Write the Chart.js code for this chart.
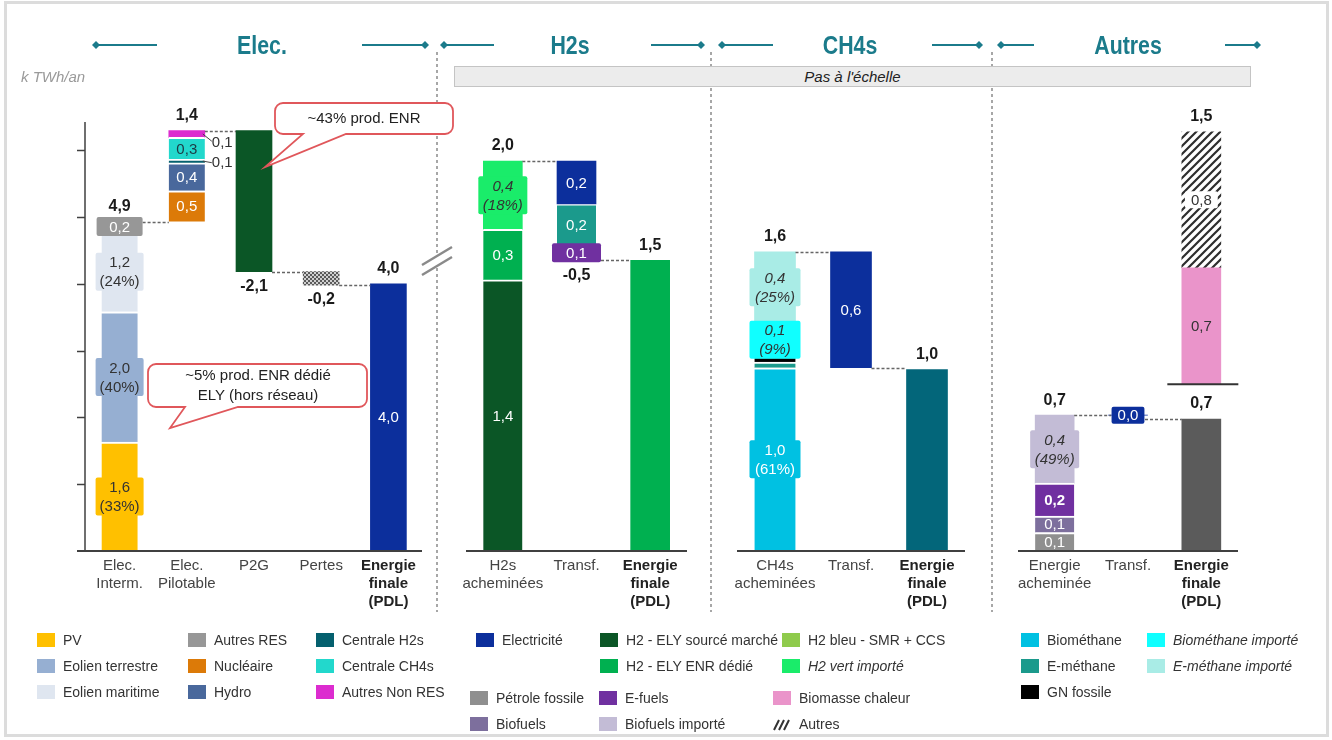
<!DOCTYPE html>
<html><head><meta charset="utf-8">
<script src="https://cdn.jsdelivr.net/npm/chart.js@4.4.1/dist/chart.umd.min.js"></script>
<style>
html,body{margin:0;padding:0;background:#fff;}
#page{position:relative;width:1332px;height:740px;overflow:hidden;font-family:"Liberation Sans",Arial,sans-serif;color:#333;}
#page canvas{position:absolute;left:0;top:0;}
.hdr{position:absolute;top:30px;line-height:30px;font-weight:bold;font-size:26px;color:#1b7b8b;transform:translateX(-50%) scaleX(0.82);white-space:nowrap;}
.unit{position:absolute;left:21px;top:68px;font-size:15px;font-style:italic;color:#9a9a9a;}
.pas{position:absolute;left:454px;top:66px;width:795px;height:19px;background:#ececec;border:1px solid #c4c4c4;font-size:15px;font-style:italic;line-height:19px;text-align:center;color:#222;}
.li{position:absolute;height:18px;line-height:18px;font-size:14px;white-space:nowrap;color:#333;}
.sw{display:inline-block;width:18px;height:14px;vertical-align:-2px;margin-right:8px;}
.hsw{display:inline-block;width:18px;height:14px;vertical-align:-2px;margin-right:8px;}
</style></head>
<body><div id="page">
<canvas id="deco" width="1332" height="740"></canvas>
<canvas id="cElec" width="1332" height="740"></canvas>
<canvas id="cH2" width="1332" height="740"></canvas>
<canvas id="cCH4" width="1332" height="740"></canvas>
<canvas id="cAutres" width="1332" height="740"></canvas>
<div class="hdr" style="left:262px">Elec.</div>
<div class="hdr" style="left:570px">H2s</div>
<div class="hdr" style="left:850px">CH4s</div>
<div class="hdr" style="left:1128px">Autres</div>
<div class="unit">k TWh/an</div>
<div class="pas">Pas à l'échelle</div>
<div id="legend"></div>
</div>
<script>
// ===================== DATA =====================
const elecCategories = [['Elec.','Interm.'],['Elec.','Pilotable'],['P2G'],['Pertes'],['Energie','finale','(PDL)']];
const elecIntermSeries = ['PV','Eolien terrestre','Eolien maritime','Autres RES'];
const elecIntermValues = [1.63, 1.95, 1.20, 0.15];
const elecIntermLabels = ['1,6\n(33%)','2,0\n(40%)','1,2\n(24%)','0,2'];
const elecPilotSeries = ['Nucléaire','Hydro','Centrale H2s','Centrale CH4s','Autres Non RES'];
const elecPilotValues = [0.46, 0.42, 0.05, 0.33, 0.10];
const elecPilotLabels = ['0,5','0,4','0,1','0,3','0,1'];
const elecP2GValue = -2.11;
const elecPertesValue = -0.20;
const elecFinalValue = 4.0;
const elecFinalLabel = '4,0';
const elecTotals = ['4,9','1,4','-2,1','-0,2','4,0'];
const elecTicks = [1,2,3,4,5,6];

const h2Categories = [['H2s','acheminées'],['Transf.'],['Energie','finale','(PDL)']];
const h2SupplySeries = ['H2 - ELY sourcé marché','H2 - ELY ENR dédié','H2 vert importé'];
const h2SupplyValues = [1.39, 0.26, 0.35];
const h2SupplyLabels = ['1,4','0,3','0,4\n(18%)'];
const h2TransfSeries = ['Electricité','E-méthane','E-fuels'];
const h2TransfValues = [0.22, 0.21, 0.08];
const h2TransfLabels = ['0,2','0,2','0,1'];
const h2FinalValue = 1.49;
const h2Totals = ['2,0','-0,5','1,5'];

const ch4Categories = [['CH4s','acheminées'],['Transf.'],['Energie','finale','(PDL)']];
const ch4SupplySeries = ['Biométhane','E-méthane','GN fossile','Biométhane importé','E-méthane importé'];
const ch4SupplyValues = [0.98, 0.03, 0.03, 0.18, 0.38];
const ch4SupplyLabels = ['1,0\n(61%)','','','0,1\n(9%)','0,4\n(25%)'];
const ch4TransfValue = -0.62;
const ch4TransfLabel = '0,6';
const ch4FinalValue = 0.97;
const ch4Totals = ['1,6','','1,0'];

const autresCategories = [['Energie','acheminée'],['Transf.'],['Energie','finale','(PDL)']];
const autresSupplySeries = ['Pétrole fossile','Biofuels','E-fuels','Biofuels importé'];
const autresSupplyValues = [0.095, 0.085, 0.17, 0.35];
const autresSupplyLabels = ['0,1','0,1','0,2','0,4\n(49%)'];
const autresTransfValue = 0.0;
const autresTransfLabel = '0,0';
const autresFinalValue = 0.68;
const autresHeatSeries = ['Biomasse chaleur','Autres'];
const autresHeatValues = [0.60, 0.70];
const autresHeatLabels = ['0,7','0,8'];
const autresTotals = ['0,7','','0,7','1,5'];

// ===================== STYLES =====================
const FONT = '"Liberation Sans", Arial, sans-serif';
function makeHatch(){
  const c=document.createElement('canvas');c.width=8;c.height=8;const g=c.getContext('2d');
  g.fillStyle='#fff';g.fillRect(0,0,8,8);g.strokeStyle='#2e2e2e';g.lineWidth=2.2;
  g.beginPath();g.moveTo(0,8);g.lineTo(8,0);g.moveTo(-2,2);g.lineTo(2,-2);g.moveTo(6,10);g.lineTo(10,6);g.stroke();
  return g.createPattern(c,'repeat');
}
function makeMesh(){
  const c=document.createElement('canvas');c.width=4;c.height=4;const g=c.getContext('2d');
  g.fillStyle='#cfcfcf';g.fillRect(0,0,4,4);g.fillStyle='#5a5a5a';g.fillRect(0,0,2,2);g.fillRect(2,2,2,2);
  return g.createPattern(c,'repeat');
}
const COLORS = {
 'PV':'#ffc000','Eolien terrestre':'#96afd2','Eolien maritime':'#dfe6f0','Autres RES':'#979797',
 'Nucléaire':'#dc7a08','Hydro':'#49689c','Centrale H2s':'#04606e','Centrale CH4s':'#22d8cc','Autres Non RES':'#dc2ccf',
 'Electricité':'#0c2f9c','H2 - ELY sourcé marché':'#0b5626','H2 - ELY ENR dédié':'#00b050','H2 bleu - SMR + CCS':'#8fcb4c','H2 vert importé':'#1aec6a',
 'Biométhane':'#00c1e2','Biométhane importé':'#10ffff','E-méthane':'#1b9a8c','E-méthane importé':'#a9ece6','GN fossile':'#000000',
 'Pétrole fossile':'#8f8f8f','Biofuels':'#7d6f9d','E-fuels':'#7030a0','Biofuels importé':'#c3bcd6','Biomasse chaleur':'#ea94ca',
 'Autres':makeHatch()
};
const PERTES = makeMesh();
const DARK='#333333', WHITE='#ffffff';
const PANELS = {};

// ===================== HELPERS =====================
function stack(cat, start, values, names, labels, styles, dir){
  const segs=[]; let acc=start;
  values.forEach((v,i)=>{
    const a=acc, b=acc+dir*Math.abs(v);
    segs.push(Object.assign({cat, lo:Math.min(a,b), hi:Math.max(a,b), name:names[i], label:labels[i]},
      (styles&&styles[i])||{}, {sep: dir>0 ? i<values.length-1 : i>0}));
    acc=b;
  });
  return {segs, end:acc};
}
function toDatasets(segs, n, bw){
  return segs.map((s,k)=>{
    const data=new Array(n).fill(null); data[s.cat]=[s.lo,s.hi];
    return {label:s.name, data, backgroundColor:s.color||COLORS[s.name], borderColor:'#ffffff',
      borderWidth:{top:s.sep?2:0,right:0,bottom:0,left:0}, borderSkipped:false,
      grouped:false, barThickness:bw, segIndex:k};
  });
}
function rr(ctx,x,y,w,h,r){ctx.beginPath();ctx.moveTo(x+r,y);ctx.arcTo(x+w,y,x+w,y+h,r);ctx.arcTo(x+w,y+h,x,y+h,r);ctx.arcTo(x,y+h,x,y,r);ctx.arcTo(x,y,x+w,y,r);ctx.closePath();}
function callout(ctx,x,y,w,h,r,t1,t2,tx,ty){
  ctx.beginPath();ctx.moveTo(x+r,y);ctx.lineTo(x+w-r,y);ctx.arcTo(x+w,y,x+w,y+r,r);
  ctx.lineTo(x+w,y+h-r);ctx.arcTo(x+w,y+h,x+w-r,y+h,r);
  ctx.lineTo(t2,y+h);ctx.lineTo(tx,ty);ctx.lineTo(t1,y+h);
  ctx.lineTo(x+r,y+h);ctx.arcTo(x,y+h,x,y+h-r,r);ctx.lineTo(x,y+r);ctx.arcTo(x,y,x+r,y,r);ctx.closePath();
  ctx.fillStyle='#fff';ctx.fill();ctx.strokeStyle='#e0575b';ctx.lineWidth=1.8;ctx.stroke();
}

const annot = {
  id:'annot',
  afterDatasetsDraw(chart){
    const o=PANELS[chart.canvas.id]; if(!o) return;
    const ctx=chart.ctx, xs=chart.scales.x, ys=chart.scales.y, ca=chart.chartArea;
    const y0=ys.getPixelForValue(0);
    ctx.save();
    if(o.yTicks){
      ctx.strokeStyle='#404040';ctx.lineWidth=1.5;ctx.beginPath();
      ctx.moveTo(ca.left-1,ys.getPixelForValue(ys.max));ctx.lineTo(ca.left-1,y0);
      o.yTicks.forEach(t=>{const py=Math.round(ys.getPixelForValue(t))+0.5;ctx.moveTo(ca.left-9,py);ctx.lineTo(ca.left-1,py);});
      ctx.stroke();
    }
    ctx.strokeStyle='#404040';ctx.lineWidth=2;ctx.beginPath();
    ctx.moveTo(ca.left-(o.baseExt||0),y0);ctx.lineTo(ca.right,y0);ctx.stroke();
    ctx.strokeStyle='#666';ctx.lineWidth=1.5;ctx.setLineDash([3,2]);
    o.connectors.forEach(c=>{
      const py=Math.round(ys.getPixelForValue(c.v))+0.5;
      const x1=xs.getPixelForValue(c.from)+(c.fromHalf!=null?c.fromHalf:o.bw/2);
      const x2=xs.getPixelForValue(c.to)-(c.toHalf!=null?c.toHalf:o.bw/2);
      ctx.beginPath();ctx.moveTo(x1,py);ctx.lineTo(x2,py);ctx.stroke();
    });
    ctx.setLineDash([]);
    chart.data.datasets.forEach((ds,i)=>{
      const s=o.segs[ds.segIndex]; if(!s||!s.label) return;
      const el=chart.getDatasetMeta(i).data[s.cat]; if(!el) return;
      const cx=el.x, cy=(el.y+el.base)/2;
      const lines=s.label.split('\n'), lh=19;
      ctx.font=(s.it?'italic ':'')+(s.bold?'bold ':'')+'15px '+FONT;
      if(s.side){
        const rx=el.x+el.width/2;
        ctx.strokeStyle='#444';ctx.lineWidth=1;ctx.beginPath();ctx.moveTo(rx-2,cy);ctx.lineTo(rx+7,cy+s.dy*0.8);ctx.stroke();
        ctx.fillStyle=DARK;ctx.textAlign='left';ctx.textBaseline='middle';ctx.fillText(s.label,rx+7,cy+s.dy);
        return;
      }
      const tw=Math.max(...lines.map(l=>ctx.measureText(l).width));
      if(s.box){
        const bwid=s.boxFit?tw+12:Math.max(el.width+10,tw+8), bh=lines.length*lh+(s.boxFit?-2:0);
        ctx.fillStyle=s.boxColor||(s.color||COLORS[s.name]);rr(ctx,cx-bwid/2,cy-bh/2,bwid,bh,2);ctx.fill();
      }
      ctx.fillStyle=s.lc||WHITE;ctx.textAlign='center';ctx.textBaseline='middle';
      lines.forEach((l,k)=>ctx.fillText(l,cx,cy+(k-(lines.length-1)/2)*lh+1));
    });
    ctx.font='bold 16px '+FONT;ctx.fillStyle='#1a1a1a';ctx.textAlign='center';ctx.textBaseline='middle';
    o.totals.forEach(t=>{ if(!t.text) return;
      const py=ys.getPixelForValue(t.v)+(t.pos==='above'?-15:15);
      ctx.fillText(t.text,xs.getPixelForValue(t.cat),py);
    });
    o.cats.forEach((lines,i)=>{
      const bold=i===o.cats.length-1;
      ctx.font=(bold?'bold ':'')+'15px '+FONT;ctx.fillStyle=bold?'#222':'#444';
      lines.forEach((l,k)=>ctx.fillText(l,xs.getPixelForValue(i),y0+15+k*18));
    });
    if(o.extra) o.extra(ctx,chart);
    ctx.restore();
  }
};

function makeChart(id, p){
  PANELS[id]=p;
  return new Chart(document.getElementById(id),{
    type:'bar',
    data:{labels:p.cats.map(c=>c.join(' ')), datasets:toDatasets(p.segs,p.cats.length,p.bw)},
    options:{
      responsive:false, animation:false, events:[],
      layout:{padding:{left:p.left,right:1332-p.right,top:122,bottom:740-551}},
      scales:{x:{type:'category',display:false,offset:true}, y:{min:0,max:p.max,display:false}},
      plugins:{legend:{display:false},tooltip:{enabled:false}}
    },
    plugins:[annot]
  });
}

// ===================== ELEC =====================
(function(){
  const boxDark={box:true,lc:DARK};
  const interm=stack(0,0,elecIntermValues,elecIntermSeries,elecIntermLabels,[boxDark,boxDark,boxDark,{box:true,lc:WHITE}],1);
  const pilot=stack(1,interm.end,elecPilotValues,elecPilotSeries,elecPilotLabels,
    [{lc:WHITE},{lc:WHITE},{side:true,dy:2},{lc:'#1d3a44'},{side:true,dy:9}],1);
  const p2g=stack(2,pilot.end,[elecP2GValue],['P2G'],[''],[{color:COLORS['H2 - ELY sourcé marché']}],-1);
  const pertes=stack(3,p2g.end,[elecPertesValue],['Pertes'],[''],[{color:PERTES}],-1);
  const fin=stack(4,0,[elecFinalValue],['Energie finale'],[elecFinalLabel],[{color:COLORS['Electricité'],lc:WHITE}],1);
  makeChart('cElec',{
    cats:elecCategories,left:86,right:422,max:6.42,bw:36,baseExt:9,yTicks:elecTicks,
    segs:[...interm.segs,...pilot.segs,...p2g.segs,...pertes.segs,...fin.segs],
    connectors:[{from:0,to:1,v:interm.end},{from:1,to:2,v:pilot.end},{from:2,to:3,v:p2g.end},{from:3,to:4,v:pertes.end}],
    totals:[{cat:0,text:elecTotals[0],v:interm.end,pos:'above'},{cat:1,text:elecTotals[1],v:pilot.end,pos:'above'},
      {cat:2,text:elecTotals[2],v:p2g.end,pos:'below'},{cat:3,text:elecTotals[3],v:pertes.end,pos:'below'},
      {cat:4,text:elecTotals[4],v:fin.end,pos:'above'}],
    extra(ctx){
      callout(ctx,275,103,178,31,8,303,346,265,167);
      callout(ctx,148,364,219,43,8,185,238,170,428);
      ctx.fillStyle='#222';ctx.font='15px '+FONT;ctx.textAlign='center';ctx.textBaseline='middle';
      ctx.fillText('~43% prod. ENR',364,119);
      ctx.fillText('~5% prod. ENR dédié',258,376);
      ctx.fillText('ELY (hors réseau)',258,396);
      ctx.fillStyle='#fff';ctx.beginPath();ctx.moveTo(422,265);ctx.lineTo(452,247);ctx.lineTo(452,257);ctx.lineTo(422,275);ctx.closePath();ctx.fill();
      ctx.strokeStyle='#8a8a8a';ctx.lineWidth=2.5;ctx.beginPath();
      ctx.moveTo(422,265);ctx.lineTo(452,247);ctx.moveTo(422,275);ctx.lineTo(452,257);ctx.stroke();
    }
  });
})();

// ===================== H2s =====================
(function(){
  const sup=stack(0,0,h2SupplyValues,h2SupplySeries,h2SupplyLabels,[{lc:WHITE},{lc:WHITE},{box:true,lc:DARK,it:true}],1);
  const tr=stack(1,sup.end,h2TransfValues,h2TransfSeries,h2TransfLabels,[{lc:WHITE},{lc:WHITE},{box:true,lc:WHITE}],-1);
  const fin=stack(2,0,[h2FinalValue],['Energie finale'],[''],[{color:COLORS['H2 - ELY ENR dédié']}],1);
  makeChart('cH2',{
    cats:h2Categories,left:466,right:687,max:2.2,bw:39,
    segs:[...sup.segs,...tr.segs,...fin.segs],
    connectors:[{from:0,to:1,v:sup.end},{from:1,to:2,v:tr.end}],
    totals:[{cat:0,text:h2Totals[0],v:sup.end,pos:'above'},{cat:1,text:h2Totals[1],v:tr.end,pos:'below'},{cat:2,text:h2Totals[2],v:fin.end,pos:'above'}]
  });
})();

// ===================== CH4s =====================
(function(){
  const sup=stack(0,0,ch4SupplyValues,ch4SupplySeries,ch4SupplyLabels,
    [{box:true,lc:WHITE},{},{},{box:true,lc:DARK,it:true},{box:true,lc:DARK,it:true}],1);
  const tr=stack(1,sup.end,[ch4TransfValue],['Electricité'],[ch4TransfLabel],[{lc:WHITE}],-1);
  const fin=stack(2,0,[ch4FinalValue],['Energie finale'],[''],[{color:'#03667a'}],1);
  makeChart('cCH4',{
    cats:ch4Categories,left:737,right:965,max:2.294,bw:41,
    segs:[...sup.segs,...tr.segs,...fin.segs],
    connectors:[{from:0,to:1,v:sup.end},{from:1,to:2,v:tr.end}],
    totals:[{cat:0,text:ch4Totals[0],v:sup.end,pos:'above'},{cat:2,text:ch4Totals[2],v:fin.end,pos:'above'}]
  });
})();

// ===================== AUTRES =====================
(function(){
  const sup=stack(0,0,autresSupplyValues,autresSupplySeries,autresSupplyLabels,
    [{lc:WHITE},{lc:WHITE},{lc:WHITE,bold:true},{box:true,lc:DARK,it:true}],1);
  const tr=stack(1,sup.end,[autresTransfValue],['Electricité'],[autresTransfLabel],[{box:true,boxFit:true,lc:WHITE}],-1);
  const fin=stack(2,0,[autresFinalValue],['Energie finale'],[''],[{color:'#5b5b5b'}],1);
  const heatBase=0.86; // visual offset of the separate (non-scaled) block
  const heat=stack(2,heatBase,autresHeatValues,autresHeatSeries,autresHeatLabels,
    [{lc:DARK},{box:true,boxFit:true,boxColor:'#fff',lc:DARK}],1);
  heat.segs.forEach(s=>s.sep=false);
  makeChart('cAutres',{
    cats:autresCategories,left:1018,right:1238,max:2.211,bw:39,
    segs:[...sup.segs,...tr.segs,...fin.segs,...heat.segs],
    connectors:[{from:0,to:1,v:sup.end,toHalf:17},{from:1,to:2,v:fin.end,fromHalf:17}],
    totals:[{cat:0,text:autresTotals[0],v:sup.end,pos:'above'},{cat:2,text:autresTotals[2],v:fin.end,pos:'above'},
      {cat:2,text:autresTotals[3],v:heat.end,pos:'above'}],
    extra(ctx,chart){
      const xs=chart.scales.x, ys=chart.scales.y, cx=xs.getPixelForValue(2), py=ys.getPixelForValue(heatBase);
      ctx.strokeStyle='#333';ctx.lineWidth=2;ctx.beginPath();ctx.moveTo(cx-34,py);ctx.lineTo(cx+37,py);ctx.stroke();
    }
  });
})();

// ===================== DECORATION =====================
(function(){
  const d=document.getElementById('deco').getContext('2d');
  d.strokeStyle='#dcdcdc';d.lineWidth=3;d.strokeRect(5.5,2.5,1322,733);
  d.strokeStyle='#8a8a8a';d.lineWidth=1.5;d.setLineDash([3,3]);
  [437,711,992].forEach(x=>{d.beginPath();d.moveTo(x,52);d.lineTo(x,612);d.stroke();});
  d.setLineDash([]);
  d.strokeStyle='#1b7b8b';d.fillStyle='#1b7b8b';d.lineWidth=2;
  const arrows=[[96,157,96],[362,425,425],[444,494,444],[651,701,701],[722,773,722],[932,979,979],[1001,1034,1001],[1225,1257,1257]];
  arrows.forEach(([a,b,dm])=>{
    d.beginPath();d.moveTo(a,45);d.lineTo(b,45);d.stroke();
    d.beginPath();d.moveTo(dm-4,45);d.lineTo(dm,41);d.lineTo(dm+4,45);d.lineTo(dm,49);d.closePath();d.fill();
  });
})();

// ===================== LEGEND =====================
const legendRows=[
 {y:640,items:[['PV',37],['Autres RES',188],['Centrale H2s',316],['Electricité',476],['H2 - ELY sourcé marché',600],['H2 bleu - SMR + CCS',782],['Biométhane',1021],['Biométhane importé',1147,true]]},
 {y:666,items:[['Eolien terrestre',37],['Nucléaire',188],['Centrale CH4s',316],['H2 - ELY ENR dédié',600],['H2 vert importé',782,true],['E-méthane',1021],['E-méthane importé',1147,true]]},
 {y:692,items:[['Eolien maritime',37],['Hydro',188],['Autres Non RES',316],['GN fossile',1021]]},
 {y:698,items:[['Pétrole fossile',470],['E-fuels',599],['Biomasse chaleur',773]]},
 {y:724,items:[['Biofuels',470],['Biofuels importé',599],['Autres',773]]}
];
(function(){
  const leg=document.getElementById('legend');
  legendRows.forEach(r=>r.items.forEach(([name,x,it])=>{
    const el=document.createElement('div');el.className='li';el.style.left=x+'px';el.style.top=(r.y-9)+'px';
    const sw=name==='Autres'
      ? '<svg class="hsw" viewBox="0 0 18 14"><path d="M1 13 L6 3 M6 13 L11 3 M11 13 L16 3" stroke="#333" stroke-width="2"/></svg>'
      : '<span class="sw" style="background:'+COLORS[name]+'"></span>';
    el.innerHTML=sw+'<span'+(it?' style="font-style:italic"':'')+'>'+name+'</span>';
    leg.appendChild(el);
  }));
})();
</script>
</body></html>
